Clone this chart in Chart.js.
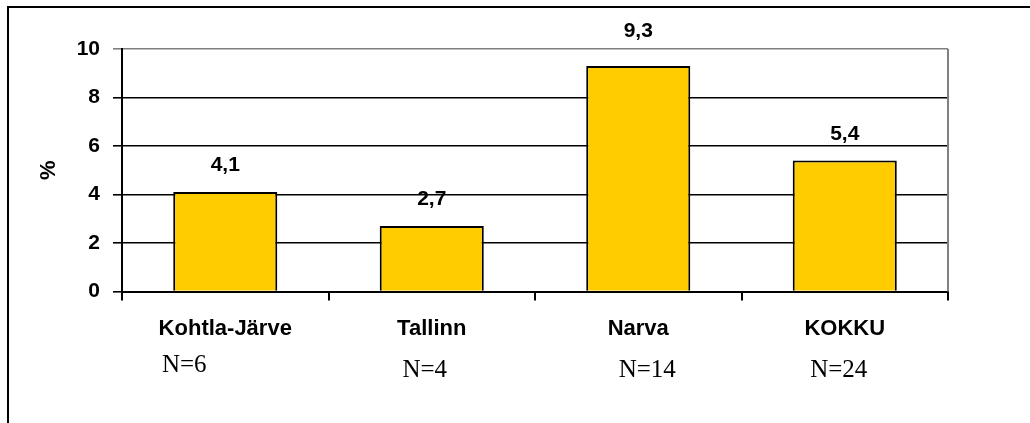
<!DOCTYPE html>
<html>
<head>
<meta charset="utf-8">
<script src="https://cdn.jsdelivr.net/npm/chart.js@4.4.1/dist/chart.umd.min.js"></script>
<style>
  html, body { margin: 0; padding: 0; background: #fff; }
  #wrap { position: relative; width: 1030px; height: 423px; }
</style>
</head>
<body>
<div id="wrap"><canvas id="chart" width="1030" height="423"></canvas></div>
<script>
// Share of respondents per town, in percent
const categories = ['Kohtla-Järve', 'Tallinn', 'Narva', 'KOKKU'];
const percentValues = [4.1, 2.7, 9.3, 5.4];
const sampleSizes = [6, 4, 14, 24];
const yTicks = [0, 2, 4, 6, 8, 10];

const SANS = "'Liberation Sans', Arial, sans-serif";
const SERIF = "'Liberation Serif', 'Times New Roman', serif";

const fmt = v => v.toFixed(1).replace('.', ',');

// Outer frame, plot-area edge, value labels and the N= captions
const decorations = {
  id: 'decorations',
  beforeDraw(chart) {
    const c = chart.ctx;
    c.save();
    c.fillStyle = '#fff';
    c.fillRect(0, 0, chart.width, chart.height);
    c.strokeStyle = '#000';
    c.lineWidth = 2;
    c.beginPath();
    c.moveTo(8, chart.height);
    c.lineTo(8, 7);
    c.lineTo(chart.width, 7);
    c.stroke();
    c.restore();
  },
  afterDatasetsDraw(chart) {
    const c = chart.ctx;
    const a = chart.chartArea;
    c.save();
    // right edge of the plot area
    c.strokeStyle = '#808080';
    c.lineWidth = 2;
    c.beginPath();
    c.moveTo(a.right, a.top);
    c.lineTo(a.right, a.bottom);
    c.stroke();

    // value labels above each bar; the tallest one is nudged up clear of the top edge
    const meta = chart.getDatasetMeta(0);
    const gap = [21, 21, 29, 21];
    c.fillStyle = '#000';
    c.font = 'bold 21px ' + SANS;
    c.textAlign = 'center';
    c.textBaseline = 'alphabetic';
    meta.data.forEach((bar, i) => {
      c.fillText(fmt(percentValues[i]), bar.x, bar.y - gap[i]);
    });

    // sample size captions under the category labels
    const xs = chart.scales.x;
    const shift = [-41, -7, 9, -6];
    const lift = [5, 0, 0, 0];
    c.font = '25px ' + SERIF;
    sampleSizes.forEach((n, i) => {
      const x = xs.getPixelForValue(i) + shift[i];
      c.fillText('N=' + n, x, 377 - lift[i]);
    });
    c.restore();
  }
};

new Chart(document.getElementById('chart'), {
  type: 'bar',
  data: {
    labels: categories,
    datasets: [{
      data: percentValues,
      backgroundColor: '#FFCC00',
      borderColor: '#000',
      borderWidth: 2,
      barPercentage: 0.504,
      categoryPercentage: 1
    }]
  },
  options: {
    responsive: false,
    animation: false,
    devicePixelRatio: 1,
    layout: { padding: { left: 0, top: 49, right: 82, bottom: 0 } },
    plugins: { legend: { display: false }, tooltip: { enabled: false } },
    scales: {
      x: {
        afterFit(scale) { scale.height = 131.5; },
        grid: {
          offset: true,
          drawOnChartArea: false,
          tickLength: 9,
          color: '#000',
          lineWidth: 2
        },
        border: { display: true, color: '#000', width: 2 },
        ticks: {
          color: '#000',
          padding: 15,
          font: { family: SANS, size: 22, weight: 'bold' }
        }
      },
      y: {
        min: 0,
        max: 10,
        afterFit(scale) { scale.width = 122; },
        afterBuildTicks(scale) { scale.ticks = yTicks.map(v => ({ value: v })); },
        grid: {
          tickLength: 9,
          lineWidth: 1.6,
          color: ctx => (ctx.tick && ctx.tick.value === 10 ? '#808080' : '#000')
        },
        border: { display: true, color: '#000', width: 2 },
        ticks: {
          color: '#000',
          padding: 13,
          font: { family: SANS, size: 21, weight: 'bold' }
        },
        title: {
          display: true,
          text: '%',
          color: '#000',
          padding: { top: 36, bottom: 0 },
          font: { family: SANS, size: 22, weight: 'bold' }
        }
      }
    }
  },
  plugins: [decorations]
});
</script>
</body>
</html>
